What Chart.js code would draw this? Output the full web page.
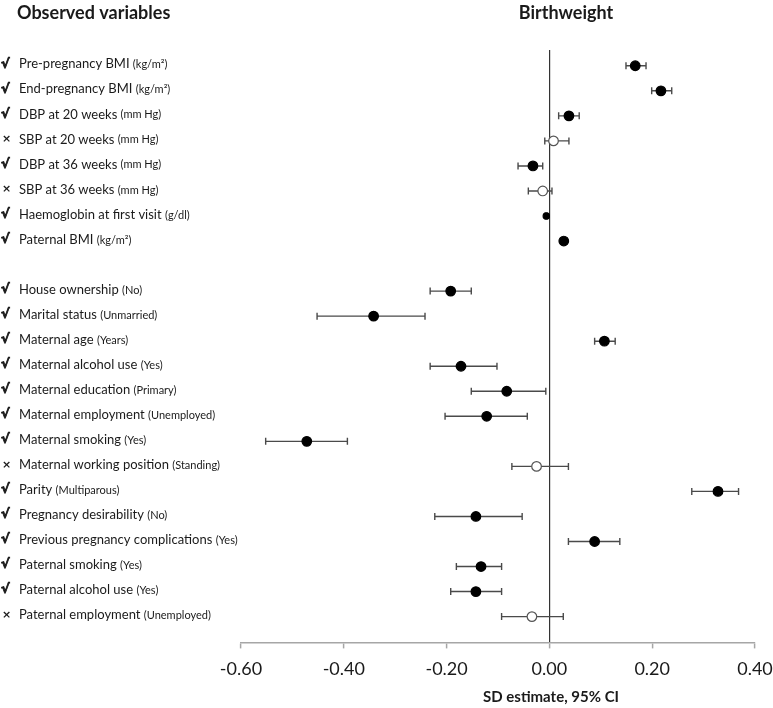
<!DOCTYPE html>
<html>
<head>
<meta charset="utf-8">
<script src="https://cdn.jsdelivr.net/npm/chart.js@4"></script>
<style>
  html, body { margin: 0; padding: 0; background: #fff; }
  canvas { display: block; }
</style>
</head>
<body>
<canvas id="forest" width="773" height="708"></canvas>
<script>
/* =======================
   Data (one row per variable, null = spacer row)
======================= */
const variables = [
  "Pre-pregnancy BMI", "End-pregnancy BMI", "DBP at 20 weeks", "SBP at 20 weeks",
  "DBP at 36 weeks", "SBP at 36 weeks", "Haemoglobin at first visit", "Paternal BMI",
  null,
  "House ownership", "Marital status", "Maternal age", "Maternal alcohol use",
  "Maternal education", "Maternal employment", "Maternal smoking",
  "Maternal working position", "Parity", "Pregnancy desirability",
  "Previous pregnancy complications", "Paternal smoking", "Paternal alcohol use",
  "Paternal employment"
];
const units = [
  "(kg/m²)", "(kg/m²)", "(mm Hg)", "(mm Hg)", "(mm Hg)", "(mm Hg)", "(g/dl)", "(kg/m²)",
  null,
  "(No)", "(Unmarried)", "(Years)", "(Yes)", "(Primary)", "(Unemployed)", "(Yes)",
  "(Standing)", "(Multiparous)", "(No)", "(Yes)", "(Yes)", "(Yes)", "(Unemployed)"
];
// true = √ (kept), false = × (not significant)
const selected = [
  true, true, true, false, true, false, true, true,
  null,
  true, true, true, true, true, true, true, false, true, true, true, true, true, false
];
const estimates = [
  0.167, 0.217, 0.038, 0.008, -0.032, -0.013, -0.006, 0.028,
  null,
  -0.192, -0.342, 0.107, -0.172, -0.083, -0.122, -0.472, -0.025,
  0.328, -0.143, 0.088, -0.133, -0.143, -0.034
];
const ciLow = [
  0.149, 0.199, 0.018, -0.009, -0.061, -0.041, -0.008, 0.022,
  null,
  -0.232, -0.452, 0.088, -0.232, -0.152, -0.203, -0.552, -0.073,
  0.277, -0.223, 0.037, -0.181, -0.192, -0.093
];
const ciHigh = [
  0.188, 0.238, 0.058, 0.038, -0.013, 0.005, -0.004, 0.034,
  null,
  -0.152, -0.242, 0.128, -0.102, -0.007, -0.043, -0.393, 0.037,
  0.368, -0.053, 0.137, -0.093, -0.093, 0.027
];
const xTicks = [-0.6, -0.4, -0.2, 0, 0.2, 0.4];

const FONT = "Lato, 'Open Sans', sans-serif";

const points = [];
estimates.forEach((v, i) => {
  if (v !== null) points.push({ x: v, y: i });
});

/* =======================
   Error bars + text plugins
======================= */
const errorBars = {
  id: "errorBars",
  beforeDatasetsDraw(chart) {
    const { ctx, scales: { x, y } } = chart;
    ctx.save();
    ctx.strokeStyle = "#4a4a4a";
    ctx.lineWidth = 1.4;
    estimates.forEach((v, i) => {
      if (v === null) return;
      const py = y.getPixelForValue(i);
      const x1 = x.getPixelForValue(ciLow[i]);
      const x2 = x.getPixelForValue(ciHigh[i]);
      ctx.beginPath();
      ctx.moveTo(x1, py); ctx.lineTo(x2, py);
      ctx.moveTo(x1, py - 3.5); ctx.lineTo(x1, py + 3.5);
      ctx.moveTo(x2, py - 3.5); ctx.lineTo(x2, py + 3.5);
      ctx.stroke();
    });
    ctx.restore();
  }
};

const textLayer = {
  id: "textLayer",
  afterDraw(chart) {
    const { ctx, scales: { y } } = chart;
    ctx.save();
    ctx.fillStyle = "#1a1a1a";
    ctx.textBaseline = "middle";

    // headers
    ctx.font = "bold 18px " + FONT;
    ctx.textAlign = "left";
    ctx.fillText("Observed variables", 17, 13);
    ctx.textAlign = "center";
    ctx.fillText("Birthweight", 566, 13);

    // x axis title
    ctx.font = "bold 15px " + FONT;
    ctx.fillText("SD estimate, 95% CI", 551, 697);

    // row labels
    ctx.textAlign = "left";
    variables.forEach((name, i) => {
      if (name === null) return;
      const py = y.getPixelForValue(i) - 1.5;
      if (selected[i]) {
        ctx.font = "bold 13px 'DejaVu Sans', sans-serif";
        ctx.lineWidth = 0.8;
        ctx.strokeStyle = "#1a1a1a";
        ctx.strokeText("√", 1, py);
        ctx.fillText("√", 1, py);
      } else {
        ctx.font = "bold 11px 'DejaVu Sans', sans-serif";
        ctx.fillText("×", 2, py);
      }
      ctx.font = "13px " + FONT;
      ctx.fillText(name, 19, py);
      const w = ctx.measureText(name + " ").width;
      ctx.font = "11px " + FONT;
      ctx.fillText(units[i], 19 + w, py + 0.5);
    });
    ctx.restore();
  }
};

/* =======================
   Chart
======================= */
const chart = new Chart(document.getElementById("forest").getContext("2d"), {
  type: "scatter",
  data: {
    datasets: [{
      data: points,
      pointRadius: ctx => (variables[ctx.raw.y] === "Haemoglobin at first visit" ? 3.2 : 4.8),
      pointBackgroundColor: ctx => (selected[ctx.raw.y] ? "#000" : "#fff"),
      pointBorderColor: ctx => (selected[ctx.raw.y] ? "#000" : "#555"),
      pointBorderWidth: 1.2
    }]
  },
  options: {
    responsive: false,
    animation: false,
    layout: { padding: { left: 241, right: 18, top: 50, bottom: 18 } },
    plugins: {
      legend: { display: false },
      tooltip: { enabled: false }
    },
    scales: {
      x: {
        min: -0.6,
        max: 0.4,
        afterBuildTicks: s => { s.ticks = xTicks.map(v => ({ value: v })); },
        afterFit: s => { s.paddingLeft = 0; s.paddingRight = 0; },
        ticks: {
          callback: v => Number(v).toFixed(2),
          font: { family: FONT, size: 18 },
          color: "#1a1a1a",
          padding: 10,
          maxRotation: 0
        },
        grid: {
          color: ctx => (ctx.tick && Math.abs(ctx.tick.value) < 1e-9 ? "#333" : "rgba(0,0,0,0)"),
          lineWidth: 1.2,
          tickColor: "#a6a6a6",
          tickWidth: 1.5,
          tickLength: 6
        },
        border: { display: true, color: "#a6a6a6", width: 1.6 }
      },
      y: {
        display: false,
        reverse: true,
        min: -0.63,
        max: 23.03
      }
    }
  },
  plugins: [errorBars, textLayer]
});
</script>
</body>
</html>
